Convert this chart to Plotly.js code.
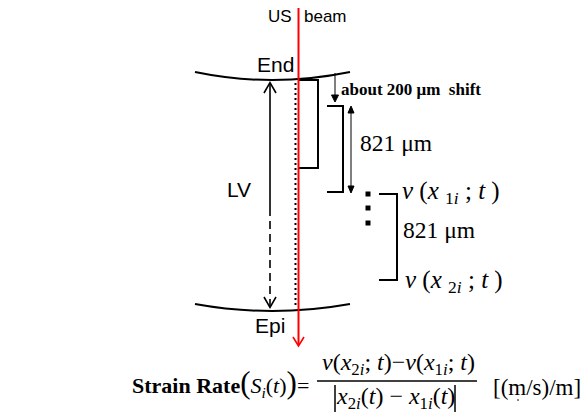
<!DOCTYPE html>
<html>
<head>
<meta charset="utf-8">
<script src="https://cdn.plot.ly/plotly-3.0.1.min.js"></script>
<style>html,body{margin:0;padding:0;background:#fff;}#chart{width:586px;height:413px;}</style>
</head>
<body>
<div id="chart"></div>
<script>
// ---- text content of the diagram ----
const beamLabels = ["US", "beam"];
const wallLabels = ["End", "LV", "Epi"];
const shiftLabel = "<b>about 200 \u03bcm  shift</b>";
const spacingLabels = ["821 \u03bcm", "821 \u03bcm"];
const velocityLabels = [
  "<i>\u03bd</i> (<i>x</i> <sub>1<i>i</i></sub> ; <i>t</i> )",
  "<i>\u03bd</i> (<i>x</i> <sub>2<i>i</i></sub> ; <i>t</i> )"
];
const formulaLeft = "<b>Strain Rate</b><span style='font-size:31px'>(</span><i>S<sub>i</sub></i>(<i>t</i>)<span style='font-size:31px'>)</span>=";
const formulaNum = "<i>\u03bd</i>(<i>x</i><sub>2<i>i</i></sub>;<i> t</i>)\u2212<i>\u03bd</i>(<i>x</i><sub>1<i>i</i></sub>;<i> t</i>)";
const formulaDen = "<i>x</i><sub>2<i>i</i></sub>(<i>t</i>) \u2212 <i>x</i><sub>1<i>i</i></sub>(<i>t</i>)";
const unitLabel = "[(m/s)/m]";

const SANS = "'Liberation Sans', Arial, sans-serif";
const SERIF = "'Liberation Serif', 'Times New Roman', serif";
const BLACK = "#000000";
const RED = "#ff0000";

function txt(text, x, y, size, family, xanchor) {
  return {text: text, x: x, y: y, xref: "x", yref: "y", showarrow: false,
          xanchor: xanchor || "center", yanchor: "middle",
          font: {family: family, size: size, color: BLACK}};
}
function line(x0, y0, x1, y1, w, color, dash) {
  return {type: "line", xref: "x", yref: "y", x0: x0, y0: y0, x1: x1, y1: y1,
          line: {color: color || BLACK, width: w, dash: dash || "solid"}};
}
function path(p, w, color, fill) {
  return {type: "path", xref: "x", yref: "y", path: p,
          fillcolor: fill || "rgba(0,0,0,0)", line: {color: color || BLACK, width: w}};
}
function rect(x0, y0, x1, y1, color) {
  return {type: "rect", xref: "x", yref: "y", x0: x0, y0: y0, x1: x1, y1: y1,
          fillcolor: color || BLACK, line: {width: 0}};
}

const shapes = [
  // heart wall curves
  path("M195,72 Q272,88 350,72", 2),
  path("M195,304 Q272,318 350,304", 2),
  // LV arrow: solid upper part, dashed lower part
  line(270, 83, 270, 208, 1.6),
  line(270, 208, 270, 306, 1.6, BLACK, "8px,5px"),
  path("M264,93 L270,82.5 L276,93", 1.6),
  path("M264,297 L270,307.5 L276,297", 1.6),
  // dotted line next to beam
  line(295.5, 83, 295.5, 307, 2, BLACK, "2px,3px"),
  // brackets
  path("M299,80 H318 V168 H299", 2),
  path("M327,106 H343 V192 H327", 2),
  path("M379,194 H397 V280 H379", 2),
  // shift arrow
  line(335, 73, 335, 96, 1),
  path("M331.5,95 L338.5,95 L335,102 Z", 1, BLACK, BLACK),
  // double arrow 821 um
  line(351, 112, 351, 187, 1),
  path("M348,113 L354,113 L351,106 Z", 1, BLACK, BLACK),
  path("M348,186 L354,186 L351,193 Z", 1, BLACK, BLACK),
  // vertical ellipsis squares
  rect(365.5, 191.5, 370.5, 196.5),
  rect(365.5, 205.5, 370.5, 210.5),
  rect(365.5, 220.5, 370.5, 225.5),
  // formula fraction bar and absolute value bars
  line(317, 381, 477, 381, 1.5),
  line(335, 385, 335, 412, 1.5),
  line(455, 385, 455, 412, 1.5),
  // small speck in the source figure
  rect(517, 399, 519, 401, "#888888"),
  // ultrasound beam (red) with arrow head
  line(298.5, 8, 298.5, 345, 2, RED),
  path("M293,337 L298.5,346 L304,337", 1.6, RED)
];

const annotations = [
  txt(beamLabels[0], 294, 16, 17, SANS, "right"),
  txt(beamLabels[1], 302, 16, 17, SANS, "left"),
  txt(wallLabels[0], 275.5, 64, 21, SANS),
  txt(wallLabels[1], 238.5, 189.5, 21, SANS),
  txt(wallLabels[2], 270, 325.5, 21, SANS),
  txt(shiftLabel, 339, 89, 17, SERIF, "left"),
  txt(spacingLabels[0], 358, 143, 23.5, SERIF, "left"),
  txt(spacingLabels[1], 401, 230, 23.5, SERIF, "left"),
  txt(velocityLabels[0], 400, 192, 25, SERIF, "left"),
  txt(velocityLabels[1], 403, 281, 25, SERIF, "left"),
  txt(formulaLeft, 130, 383, 22, SERIF, "left"),
  txt(formulaNum, 398, 364, 24, SERIF, "center"),
  txt(formulaDen, 395, 398, 24, SERIF, "center"),
  txt(unitLabel, 491, 387, 23, SERIF, "left")
];

const layout = {
  width: 586, height: 413,
  margin: {l: 0, r: 0, t: 0, b: 0},
  paper_bgcolor: "#ffffff", plot_bgcolor: "#ffffff",
  showlegend: false,
  xaxis: {range: [0, 586], visible: false, fixedrange: true},
  yaxis: {range: [413, 0], visible: false, fixedrange: true},
  shapes: shapes,
  annotations: annotations
};

Plotly.newPlot("chart", [], layout, {displayModeBar: false});
</script>
</body>
</html>
